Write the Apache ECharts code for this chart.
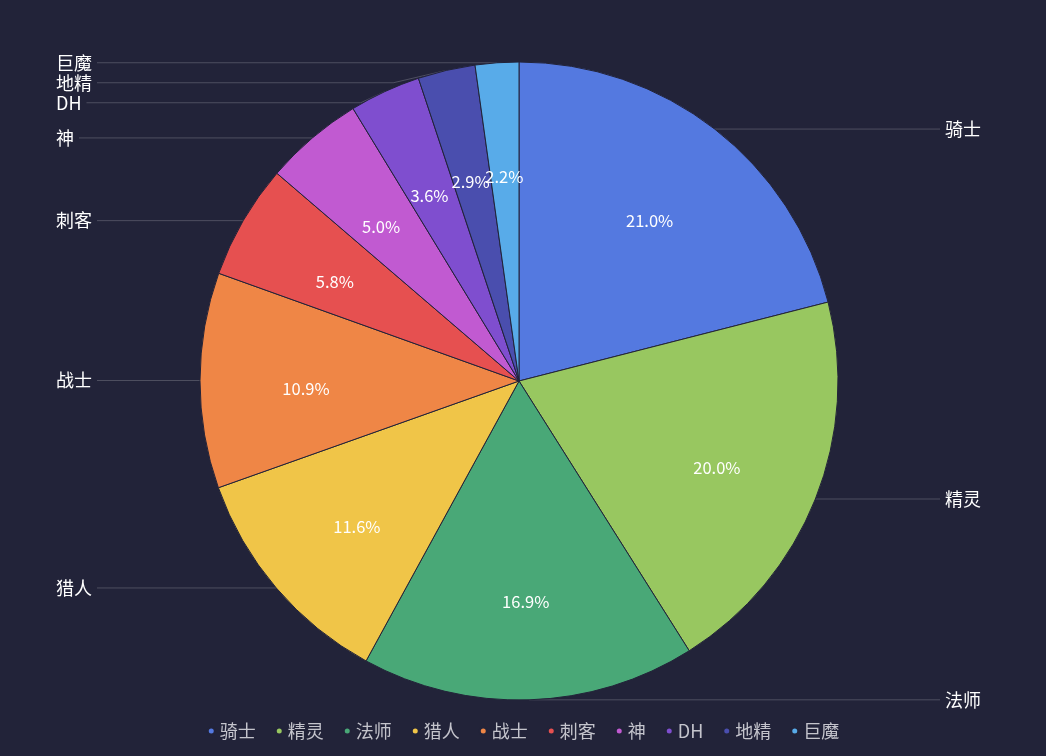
<!DOCTYPE html>
<html>
<head>
<meta charset="utf-8">
<script src="https://cdn.jsdelivr.net/npm/echarts@6/dist/echarts.min.js"></script>
<style>
html,body{margin:0;padding:0;background:#222339;}
#main{width:1046px;height:756px;}
</style>
</head>
<body>
<div id="main"></div>
<script>
const categories = ['骑士','精灵','法师','猎人','战士','刺客','神','DH','地精','巨魔'];
const values = [210, 200, 169, 116, 109, 58, 50, 36, 29, 22];
const colors = ['#5479e0','#98c760','#49a877','#f0c548','#ef8646','#e65050','#c15ad1','#7f4ecf','#4a4eae','#58abe9'];

const total = values.reduce((a, b) => a + b, 0);
const data = categories.map((n, i) => ({ name: n, value: values[i] }));
const FONT = '"Noto Sans CJK SC", "Noto Sans", sans-serif';

const chart = echarts.init(document.getElementById('main'));
chart.setOption({
  backgroundColor: '#222339',
  color: colors,
  animation: false,
  legend: {
    top: 717,
    left: 'center',
    icon: 'circle',
    itemWidth: 7,
    itemHeight: 7,
    itemGap: 19,
    textStyle: { color: '#c4c4cc', fontSize: 18, fontFamily: FONT },
    data: categories
  },
  series: [
    {
      type: 'pie',
      center: [519, 381],
      radius: [0, 319],
      left: 0,
      right: 9,
      data: data,
      itemStyle: { borderColor: '#222339', borderWidth: 1 },
      label: {
        show: true,
        position: 'outside',
        alignTo: 'edge',
        edgeDistance: 56,
        color: '#ffffff',
        fontSize: 18,
        fontFamily: FONT,
        formatter: '{b}'
      },
      labelLine: {
        show: true,
        length: 0,
        length2: 10,
        lineStyle: { color: 'rgba(255,255,255,0.2)', width: 1 }
      }
    },
    {
      type: 'pie',
      center: [519, 381],
      radius: [101, 319],
      silent: true,
      z: 3,
      avoidLabelOverlap: false,
      data: data,
      itemStyle: { color: 'rgba(0,0,0,0)' },
      label: {
        show: true,
        position: 'inside',
        offset: [0, 8],
        color: '#ffffff',
        fontSize: 16.5,
        fontFamily: FONT,
        formatter: p => (p.value / total * 100).toFixed(1) + '%'
      },
      labelLayout: { hideOverlap: false },
      labelLine: { show: false }
    }
  ]
});
</script>
</body>
</html>
